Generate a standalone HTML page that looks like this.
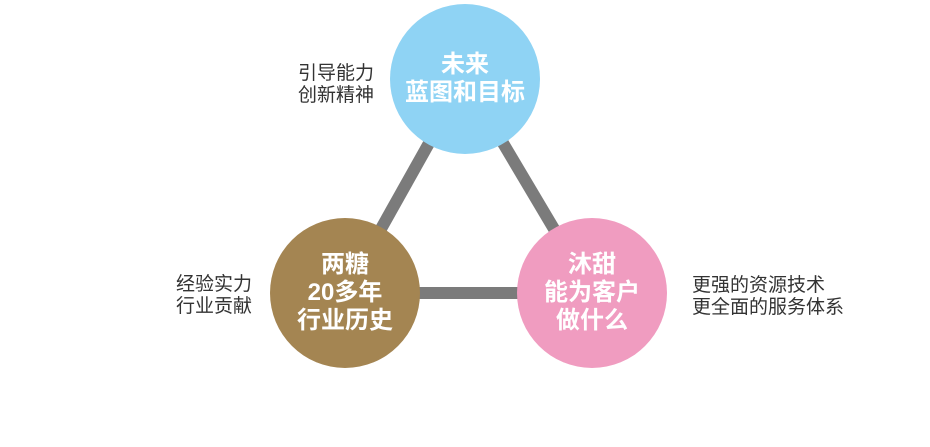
<!DOCTYPE html>
<html><head><meta charset="utf-8"><style>
body{margin:0;width:930px;height:447px;background:#fff;position:relative;overflow:hidden;font-family:"Liberation Sans","Noto Sans CJK SC",sans-serif}
.c{position:absolute;border-radius:50%;display:flex;align-items:center;justify-content:center;text-align:center;color:#fff;font-weight:bold;font-size:24px;line-height:28px}
.t{position:absolute;color:#333;font-size:19px;line-height:22px;white-space:nowrap}
</style></head><body>
<svg width="930" height="447" style="position:absolute;left:0;top:0">
<g stroke="#7b7b7b" stroke-width="12">
<line x1="465" y1="79" x2="345" y2="293"/>
<line x1="465" y1="79" x2="592" y2="293"/>
<line x1="345" y1="293" x2="592" y2="293"/>
</g></svg>
<div class="c" style="left:390px;top:4px;width:150px;height:150px;background:#8fd3f4">未来<br>蓝图和目标</div>
<div class="c" style="left:270px;top:218px;width:150px;height:150px;background:#a48552">两糖<br>20多年<br>行业历史</div>
<div class="c" style="left:517px;top:218px;width:150px;height:150px;background:#f09cc0">沐甜<br>能为客户<br>做什么</div>
<div class="t" style="left:298px;top:63px">引导能力<br>创新精神</div>
<div class="t" style="left:176px;top:274px">经验实力<br>行业贡献</div>
<div class="t" style="left:692px;top:275px">更强的资源技术<br>更全面的服务体系</div>
</body></html>
